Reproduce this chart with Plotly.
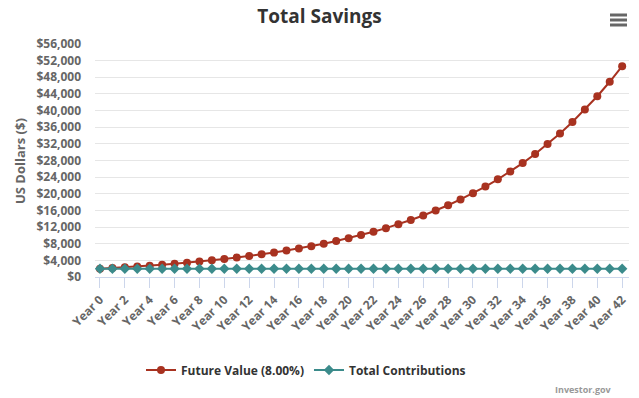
import plotly.graph_objects as go

years = ["Year %d" % i for i in range(43)]
future_value = [2000, 2160, 2333, 2519, 2721, 2939, 3174, 3428, 3702, 3998,
                4318, 4663, 5036, 5439, 5874, 6344, 6852, 7400, 7992, 8631,
                9322, 10068, 10873, 11743, 12682, 13697, 14793, 15976, 17254, 18634,
                20125, 21735, 23474, 25352, 27380, 29570, 31936, 34491, 37250, 40230,
                43448, 46924, 50678]
contributions = [2000] * 43
y_ticks = list(range(0, 56001, 4000))
y_labels = ["$%s" % format(v, ",") for v in y_ticks]
x_ticks = years[::2]

FONT = "Open Sans"
RED = "#a83220"
TEAL = "#3b8b8b"

# plot area in pixels: x 95..629, y 44..277
PL, PR, PT, PB = 95, 629, 44, 277
PW, PH = PR - PL, PB - PT


def px(x):
    return (x - PL) / PW


def py(y):
    return (PB - y) / PH


fig = go.Figure()
fig.add_trace(go.Scatter(
    x=years, y=future_value, name="<b>Future Value (8.00%)</b>", mode="lines+markers",
    line=dict(color=RED, width=2), marker=dict(symbol="circle", size=8, color=RED)))
fig.add_trace(go.Scatter(
    x=years, y=contributions, name="<b>Total Contributions</b>", mode="lines+markers",
    line=dict(color=TEAL, width=2), marker=dict(symbol="diamond", size=8, color=TEAL)))

fig.update_layout(
    width=639, height=398,
    margin=dict(l=PL, r=639 - PR, t=PT, b=398 - PB, autoexpand=False),
    paper_bgcolor="white", plot_bgcolor="white",
    font=dict(family=FONT, color="#666666", size=12),
    title=dict(text="<b>Total Savings</b>", x=0.5, xanchor="center", y=0.96, yanchor="middle",
               font=dict(family=FONT, size=19, color="#333333")),
    showlegend=True,
    legend=dict(orientation="h", x=px(306), xanchor="center", y=py(370), yanchor="middle",
                font=dict(family=FONT, size=12, color="#333333"), itemwidth=30,
                bgcolor="rgba(0,0,0,0)"),
    xaxis=dict(type="category", range=[-0.4, 42.55], tickmode="array", tickvals=x_ticks,
               ticktext=["<b>%s</b>" % t for t in x_ticks], tickangle=-45, automargin=False,
               showgrid=False, showline=True, linecolor="#ccd6eb", linewidth=1,
               ticks="outside", ticklen=10, tickcolor="#ccd6eb",
               tickfont=dict(family=FONT, size=12, color="#666666"), fixedrange=True),
    yaxis=dict(range=[0, 56000], tickmode="array", tickvals=y_ticks, automargin=False,
               ticktext=["<b>%s</b>" % t for t in y_labels], ticklabelstandoff=13,
               showgrid=True, gridcolor="#e6e6e6", gridwidth=1, zeroline=False,
               tickfont=dict(family=FONT, size=12, color="#666666"),
               fixedrange=True),
)

fig.add_annotation(text="<b>US Dollars ($)</b>", xref="paper", yref="paper",
                   x=px(20), y=py(161), xanchor="center", yanchor="middle", textangle=-90,
                   showarrow=False, font=dict(family=FONT, size=13, color="#666666"))

fig.add_annotation(text="<b>Investor.gov</b>", xref="paper", yref="paper",
                   x=px(614), y=py(389), xanchor="right", yanchor="middle",
                   showarrow=False, font=dict(family=FONT, size=9, color="#999999"))

# menu icon
for yy in (15, 20, 25):
    fig.add_shape(type="line", xref="paper", yref="paper",
                  x0=px(610), x1=px(627), y0=py(yy), y1=py(yy),
                  line=dict(color="#666666", width=3))

fig.write_html("out.html", config={"displayModeBar": False},
               post_script="document.body.style.margin='0px';document.body.style.overflow='hidden';")
